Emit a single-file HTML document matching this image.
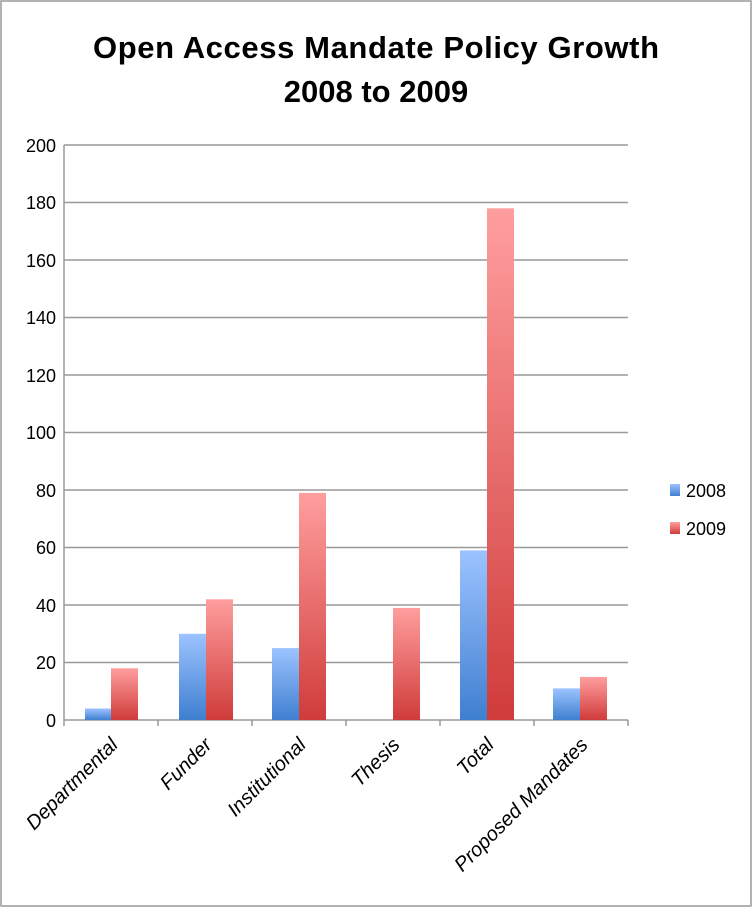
<!DOCTYPE html>
<html><head><style>
body{margin:0;background:#fff;}
svg text{font-family:"Liberation Sans",sans-serif;}
</style></head><body>
<svg width="753" height="908" xmlns="http://www.w3.org/2000/svg">
<defs>
<linearGradient id="b" x1="0" y1="0" x2="0" y2="1"><stop offset="0" stop-color="#9cc3ff"/><stop offset="1" stop-color="#3f7fd0"/></linearGradient>
<linearGradient id="r" x1="0" y1="0" x2="0" y2="1"><stop offset="0" stop-color="#ff9e9e"/><stop offset="1" stop-color="#cf3c3a"/></linearGradient>
</defs>
<rect x="1" y="1" width="750" height="905" fill="#fff" stroke="#999" stroke-width="1.5"/>
<text x="376" y="58" font-size="31" font-weight="bold" text-anchor="middle" textLength="566">Open Access Mandate Policy Growth</text>
<text x="376" y="102" font-size="31" font-weight="bold" text-anchor="middle">2008 to 2009</text>
<g stroke="#999" stroke-width="1.5">
<line x1="64" y1="145" x2="628" y2="145"/><line x1="64" y1="202.5" x2="628" y2="202.5"/>
<line x1="64" y1="260" x2="628" y2="260"/><line x1="64" y1="317.5" x2="628" y2="317.5"/>
<line x1="64" y1="375" x2="628" y2="375"/><line x1="64" y1="432.5" x2="628" y2="432.5"/>
<line x1="64" y1="490" x2="628" y2="490"/><line x1="64" y1="547.5" x2="628" y2="547.5"/>
<line x1="64" y1="605" x2="628" y2="605"/><line x1="64" y1="662.5" x2="628" y2="662.5"/>
<line x1="64" y1="145" x2="64" y2="726"/>
<line x1="64" y1="720" x2="628" y2="720"/>
<line x1="158" y1="720" x2="158" y2="726"/><line x1="252" y1="720" x2="252" y2="726"/>
<line x1="346" y1="720" x2="346" y2="726"/><line x1="440" y1="720" x2="440" y2="726"/>
<line x1="534" y1="720" x2="534" y2="726"/><line x1="628" y1="720" x2="628" y2="726"/>
</g>
<g font-size="18" text-anchor="end">
<text x="56" y="152">200</text><text x="56" y="209">180</text><text x="56" y="267">160</text>
<text x="56" y="324">140</text><text x="56" y="382">120</text><text x="56" y="439">100</text>
<text x="56" y="497">80</text><text x="56" y="554">60</text><text x="56" y="612">40</text>
<text x="56" y="669">20</text><text x="56" y="727">0</text>
</g>
<g>
<rect x="85" y="708.5" width="26" height="11.5" fill="url(#b)"/>
<rect x="111" y="668.3" width="27" height="51.7" fill="url(#r)"/>
<rect x="179" y="633.8" width="27" height="86.2" fill="url(#b)"/>
<rect x="206" y="599.3" width="27" height="120.7" fill="url(#r)"/>
<rect x="272" y="648.1" width="27" height="71.9" fill="url(#b)"/>
<rect x="299" y="492.9" width="27" height="227.1" fill="url(#r)"/>
<rect x="393" y="607.9" width="27" height="112.1" fill="url(#r)"/>
<rect x="460" y="550.4" width="27" height="169.6" fill="url(#b)"/>
<rect x="487" y="208.3" width="27" height="511.7" fill="url(#r)"/>
<rect x="553" y="688.4" width="27" height="31.6" fill="url(#b)"/>
<rect x="580" y="676.9" width="27" height="43.1" fill="url(#r)"/>
</g>
<g font-size="20" font-style="italic" text-anchor="end">
<text transform="translate(119,746) rotate(-45)">Departmental</text>
<text transform="translate(213,746) rotate(-45)">Funder</text>
<text transform="translate(307,746) rotate(-45)">Institutional</text>
<text transform="translate(401,746) rotate(-45)">Thesis</text>
<text transform="translate(495,746) rotate(-45)">Total</text>
<text transform="translate(589,746) rotate(-45)">Proposed Mandates</text>
</g>
<rect x="670" y="484" width="10" height="12" fill="url(#b)"/>
<text x="686" y="497" font-size="18">2008</text>
<rect x="670" y="522" width="10" height="12" fill="url(#r)"/>
<text x="686" y="535" font-size="18">2009</text>
</svg>
</body></html>
